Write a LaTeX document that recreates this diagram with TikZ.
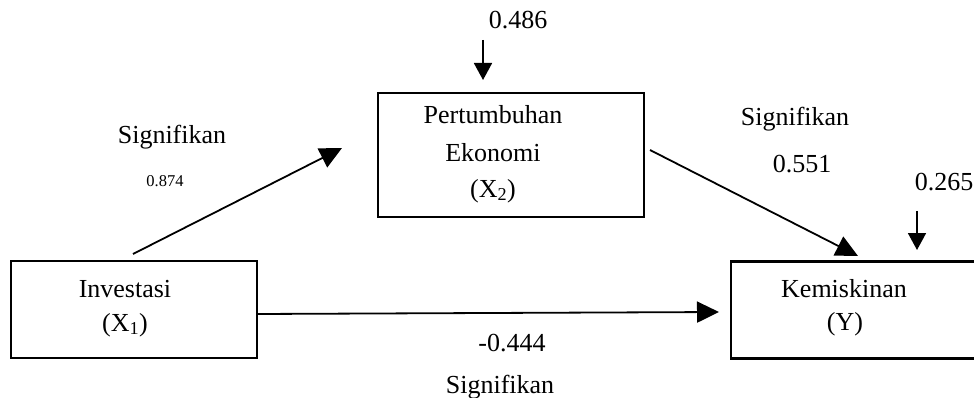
\documentclass[tikz,border=0pt]{standalone}
\usepackage{fontspec}
\setmainfont{Liberation Serif}
\usetikzlibrary{arrows.meta}
\begin{document}
\begin{tikzpicture}[x=1pt,y=-1pt,
  box/.style={draw=black,line width=2.2pt,inner sep=0pt},
  txt/.style={font=\fontsize{26}{30}\selectfont,inner sep=0pt,anchor=base},
  small/.style={font=\fontsize{16.5}{20}\selectfont,inner sep=0pt,anchor=base},
  arr/.style={line width=1.8pt,-{Triangle[length=22pt,width=21pt]}},
  sarr/.style={line width=1.8pt,-{Triangle[length=17pt,width=18pt]}}]
\clip (0,0) rectangle (974,398);
\useasboundingbox (0,0) rectangle (974,398);
% boxes
\node[box,minimum width=246pt,minimum height=97pt] (inv) at (134,309.5) {};
\node[box,minimum width=266pt,minimum height=124pt] (pert) at (511,155) {};
\node[box,minimum width=260pt,minimum height=97pt] (kem) at (861,310) {};
% box texts
\node[txt] (t1a) at (125,297) {Investasi};
\node[txt] (t1b) at (125,331) {(X\textsubscript{1})};
\node[txt] (t2a) at (493,124) {Pertumbuhan};
\node[txt] (t2b) at (493,162) {Ekonomi};
\node[txt] (t2c) at (493,197) {(X\textsubscript{2})};
\node[txt] (t3a) at (844,297) {Kemiskinan};
\node[txt] (t3b) at (845,330) {(Y)};
% connector end points
\coordinate (a1s) at (133,254);
\coordinate (a1e) at (342,148);
\coordinate (a2s) at (650,150);
\coordinate (a2e) at (858,256);
\coordinate (a3s) at (257,314);
\coordinate (a3e) at (719,312);
\coordinate (e1s) at (483,40);
\coordinate (e1e) at (483,80);
\coordinate (e2s) at (917,211);
\coordinate (e2e) at (917,250);
\draw[arr] (a1s) -- (a1e);
\draw[arr] (a2s) -- (a2e);
\draw[arr] (a3s) -- (a3e);
\draw[sarr] (e1s) -- (e1e);
\draw[sarr] (e2s) -- (e2e);
% labels
\node[txt] (l486) at (518,29) {0.486};
\node[txt] (l265) at (944,190) {0.265};
\node[txt] (ls1) at (172,144) {Signifikan};
\node[small] (l874) at (165,186) {0.874};
\node[txt] (ls2) at (795,126) {Signifikan};
\node[txt] (l551) at (802,173) {0.551};
\node[txt] (l444) at (512,351) {-0.444};
\node[txt] (ls3) at (500,393) {Signifikan};
\end{tikzpicture}
\end{document}
